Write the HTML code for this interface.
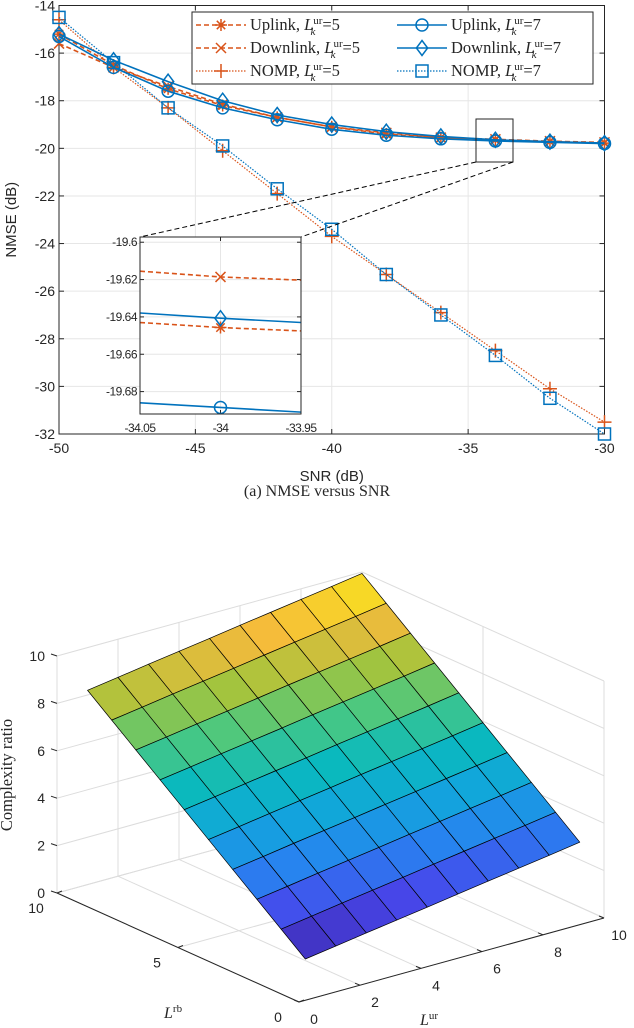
<!DOCTYPE html>
<html><head><meta charset="utf-8"><style>
html,body{margin:0;padding:0;background:#fff;}
svg{display:block;}
text{font-family:"Liberation Sans",sans-serif;fill:#262626;}
.serif{font-family:"Liberation Serif",serif;}
</style></head><body>
<svg id="fig" width="634" height="1028" viewBox="0 0 634 1028" xmlns="http://www.w3.org/2000/svg">
<defs><clipPath id="ic"><rect x="140" y="237" width="161" height="177"/></clipPath></defs>
<g id="topChart"></g>
<text x="317" y="496" text-anchor="middle" class="serif" font-size="16">(a) NMSE versus SNR</text>
<g id="botChart"></g>
</svg>
<script>
// ---------- data: NMSE chart ----------
const snr = [-50,-48,-46,-44,-42,-40,-38,-36,-34,-32,-30];
const upL5 = [-15.2,-16.5,-17.5,-18.2,-18.7,-19.1,-19.4,-19.55,-19.65,-19.72,-19.78];
const downL5 = [-15.6,-16.6,-17.4,-18.15,-18.7,-19.1,-19.35,-19.55,-19.62,-19.7,-19.75];
const nompL5 = [-14.6,-16.6,-18.3,-20.1,-21.9,-23.7,-25.3,-26.9,-28.5,-30.1,-31.5];
const upL7 = [-15.3,-16.6,-17.6,-18.3,-18.8,-19.2,-19.45,-19.6,-19.69,-19.75,-19.8];
const downL7 = [-15.2,-16.3,-17.2,-18.0,-18.6,-19.0,-19.3,-19.5,-19.64,-19.72,-19.78];
const nompL7 = [-14.5,-16.4,-18.3,-19.9,-21.7,-23.4,-25.3,-27.0,-28.7,-30.5,-32.0];
const xTicks = [-50,-45,-40,-35,-30];
const yTicks = [-14,-16,-18,-20,-22,-24,-26,-28,-30,-32];
// inset
const insetX = [-34.05,-34,-33.95];
const insDownL5 = [-19.6155,-19.6186,-19.6203];
const insUpL5 = [-19.643,-19.6457,-19.6475];
const insDownL7 = [-19.6379,-19.6407,-19.643];
const insUpL7 = [-19.686,-19.6885,-19.691];
const insXTicks = [-34.05,-34,-33.95];
const insXLabels = ['-34.05','-34','-33.95'];
const insYTicks = [-19.6,-19.62,-19.64,-19.66,-19.68];
const insYLabels = ['-19.6','-19.62','-19.64','-19.66','-19.68'];
// ---------- data: complexity surface ----------
const lur = [1,2,3,4,5,6,7,8,9,10];
const lrb = [1,2,3,4,5,6,7,8,9,10];
const ratio = [
[1.00,1.19,1.39,1.58,1.77,1.97,2.16,2.35,2.54,2.74],
[1.80,1.99,2.19,2.38,2.57,2.77,2.96,3.15,3.34,3.54],
[2.60,2.79,2.99,3.18,3.37,3.57,3.76,3.95,4.14,4.34],
[3.40,3.59,3.79,3.98,4.17,4.37,4.56,4.75,4.94,5.14],
[4.20,4.39,4.59,4.78,4.97,5.17,5.36,5.55,5.74,5.94],
[5.00,5.19,5.39,5.58,5.77,5.97,6.16,6.35,6.54,6.74],
[5.80,5.99,6.19,6.38,6.57,6.77,6.96,7.15,7.34,7.54],
[6.60,6.79,6.99,7.18,7.37,7.57,7.76,7.95,8.14,8.34],
[7.40,7.59,7.79,7.98,8.17,8.37,8.56,8.75,8.94,9.14],
[8.20,8.39,8.59,8.78,8.97,9.17,9.36,9.55,9.74,9.94]];
const zTicks = [0,2,4,6,8,10];
const urTicks = [0,2,4,6,8,10];
const rbTicks = [0,5,10];

const NS='http://www.w3.org/2000/svg';
function mk(parent,tag,attrs){const e=document.createElementNS(NS,tag);for(const k in attrs)e.setAttribute(k,attrs[k]);parent.appendChild(e);return e;}
const OR='#D95319', BL='#0072BD';

// ---------- top chart ----------
const topG=document.getElementById('topChart');
const L=59,R=604.5,T=5.5,B=434;
const X=v=>L+(v+50)/20*(R-L);
const Y=v=>T+(-14-v)/18*(B-T);
mk(topG,'rect',{x:L,y:T,width:R-L,height:B-T,fill:'#fff'});
xTicks.forEach(t=>{
 const g=mk(topG,'line',{x1:X(t),x2:X(t),y1:T,y2:B,stroke:'#e6e6e6','stroke-width':1});
 
 mk(topG,'line',{x1:X(t),x2:X(t),y1:B,y2:B-5,stroke:'#262626'});
 mk(topG,'line',{x1:X(t),x2:X(t),y1:T,y2:T+5,stroke:'#262626'});
 const tx=mk(topG,'text',{x:X(t),y:B+19,'text-anchor':'middle','font-size':14});tx.textContent=t;
 
});
yTicks.forEach(t=>{
 const g=mk(topG,'line',{x1:L,x2:R,y1:Y(t),y2:Y(t),stroke:'#e6e6e6','stroke-width':1});
 
 mk(topG,'line',{x1:L,x2:L+5,y1:Y(t),y2:Y(t),stroke:'#262626'});
 mk(topG,'line',{x1:R,x2:R-5,y1:Y(t),y2:Y(t),stroke:'#262626'});
 const tx=mk(topG,'text',{x:L-4,y:Y(t)+5,'text-anchor':'end','font-size':14});tx.textContent=t;
 
});
mk(topG,'rect',{x:L,y:T,width:R-L,height:B-T,fill:'none',stroke:'#262626','stroke-width':1});
let t1=mk(topG,'text',{x:(L+R)/2,y:481,'text-anchor':'middle','font-size':15});t1.textContent='SNR (dB)';

let t2=mk(topG,'text',{x:0,y:0,'text-anchor':'middle','font-size':15,transform:`translate(16,${(T+B)/2}) rotate(-90)`});t2.textContent='NMSE (dB)';


function marker(g,type,x,y,c,s){
 const st={stroke:c,'stroke-width':1.5,fill:'none'};
 if(type==='star'){s=s||6;mk(g,'path',Object.assign({d:`M${x-s} ${y}H${x+s}M${x} ${y-s}V${y+s}M${x-s*.7} ${y-s*.7}L${x+s*.7} ${y+s*.7}M${x-s*.7} ${y+s*.7}L${x+s*.7} ${y-s*.7}`},st));}
 else if(type==='x'){s=s||5;mk(g,'path',Object.assign({d:`M${x-s} ${y-s}L${x+s} ${y+s}M${x-s} ${y+s}L${x+s} ${y-s}`},st));}
 else if(type==='plus'){s=s||7;mk(g,'path',Object.assign({d:`M${x-s} ${y}H${x+s}M${x} ${y-s}V${y+s}`},st));}
 else if(type==='circle'){mk(g,'circle',Object.assign({cx:x,cy:y,r:s||6},st));}
 else if(type==='diamond'){s=s||7.5;mk(g,'path',Object.assign({d:`M${x} ${y-s}L${x+s*.75} ${y}L${x} ${y+s}L${x-s*.75} ${y}Z`},st));}
 else if(type==='square'){s=s||6;mk(g,'rect',Object.assign({x:x-s,y:y-s,width:2*s,height:2*s},st));}
}
const series=[
 {name:'uplink-l5',d:upL5,c:OR,dash:'5 3',m:'star'},
 {name:'downlink-l5',d:downL5,c:OR,dash:'5 3',m:'x'},
 {name:'nomp-l5',d:nompL5,c:OR,dash:'1.5 1.5',m:'plus'},
 {name:'uplink-l7',d:upL7,c:BL,dash:'',m:'circle'},
 {name:'downlink-l7',d:downL7,c:BL,dash:'',m:'diamond'},
 {name:'nomp-l7',d:nompL7,c:BL,dash:'1.5 1.5',m:'square'}];
series.forEach(s=>{
 const g=mk(topG,'g',{});
 
 mk(g,'polyline',{points:s.d.map((v,i)=>X(snr[i])+','+Y(v)).join(' '),fill:'none',stroke:s.c,'stroke-width':s.dash==='1.5 1.5'?1.2:1.6,'stroke-dasharray':s.dash});
 s.d.forEach((v,i)=>marker(g,s.m,X(snr[i]),Y(v),s.c));
});
// zoom box
const zb=mk(topG,'rect',{x:476,y:119,width:37,height:43,fill:'none',stroke:'#262626','stroke-width':1});

mk(topG,'line',{x1:476,y1:162,x2:140,y2:237,stroke:'#000','stroke-dasharray':'5 3','stroke-width':1});
mk(topG,'line',{x1:513,y1:162,x2:301,y2:237,stroke:'#000','stroke-dasharray':'5 3','stroke-width':1});
// inset
const ins=mk(topG,'g',{});

const iL=140,iR=301,iT=237,iB=414;
const IX=v=>iL+(v+34.05)/0.1*(iR-iL);
const IY=v=>iT+(-19.5972-v)/(0.0948)*(iB-iT);
mk(ins,'rect',{x:iL,y:iT,width:iR-iL,height:iB-iT,fill:'#fff'});
insXTicks.forEach((t,i)=>{
 mk(ins,'line',{x1:IX(t),x2:IX(t),y1:iT,y2:iB,stroke:'#e6e6e6'});
 mk(ins,'line',{x1:IX(t),x2:IX(t),y1:iB,y2:iB-4,stroke:'#262626'});
 mk(ins,'line',{x1:IX(t),x2:IX(t),y1:iT,y2:iT+4,stroke:'#262626'});
 const tx=mk(ins,'text',{x:IX(t),y:432,'text-anchor':'middle','font-size':12,'letter-spacing':'-0.5'});tx.textContent=insXLabels[i];
});
insYTicks.forEach((t,i)=>{
 mk(ins,'line',{x1:iL,x2:iR,y1:IY(t),y2:IY(t),stroke:'#e6e6e6'});
 mk(ins,'line',{x1:iL,x2:iL+4,y1:IY(t),y2:IY(t),stroke:'#262626'});
 mk(ins,'line',{x1:iR,x2:iR-4,y1:IY(t),y2:IY(t),stroke:'#262626'});
 const tx=mk(ins,'text',{x:iL-3,y:IY(t)+4,'text-anchor':'end','font-size':12,'letter-spacing':'-0.5'});tx.textContent=insYLabels[i];
});
const insSeries=[
 {d:insDownL5,c:OR,dash:'5 3',m:'x'},{d:insUpL5,c:OR,dash:'5 3',m:'star'},
 {d:insDownL7,c:BL,dash:'',m:'diamond'},{d:insUpL7,c:BL,dash:'',m:'circle'}];
const ig=mk(ins,'g',{'clip-path':'url(#ic)'});
insSeries.forEach(s=>{
 mk(ig,'polyline',{points:s.d.map((v,i)=>IX(insetX[i])+','+IY(v)).join(' '),fill:'none',stroke:s.c,'stroke-width':1.6,'stroke-dasharray':s.dash});
 marker(ig,s.m,IX(insetX[1]),IY(s.d[1]),s.c);
});
mk(ins,'rect',{x:iL,y:iT,width:iR-iL,height:iB-iT,fill:'none',stroke:'#262626'});
// legend
const lg=mk(topG,'g',{});

mk(lg,'rect',{x:192,y:12,width:401,height:72,fill:'#fff',stroke:'#262626'});
const legRows=[25,48,71];
const labels=['Uplink, ','Downlink, ','NOMP, '];
series.forEach((s,i)=>{
 const col=i<3?0:1,row=i%3;
 const x0=col?397:196,y=legRows[row];
 const e=mk(lg,'g',{});
 
 mk(e,'line',{x1:x0,x2:x0+50,y1:y,y2:y,stroke:s.c,'stroke-width':s.dash==='1.5 1.5'?1.2:1.6,'stroke-dasharray':s.dash});
 marker(e,s.m,x0+25,y,s.c);
 const t=mk(e,'text',{x:x0+54,y:y+5,'font-size':16.5,class:'serif'});
 t.innerHTML=`${labels[row]}<tspan font-style="italic">L</tspan><tspan dy="-6" font-size="11">ur</tspan><tspan dx="-12" dy="11" font-size="11" font-style="italic">k</tspan><tspan dx="7" dy="-5">=${col?7:5}</tspan>`;
});

// ---------- bottom 3D chart ----------
const botG=document.getElementById('botChart');
const O={x:299,y:1002}, eUR={x:30.5,y:-8.4}, eRB={x:-24.2,y:-10.9}, eZ={x:0,y:-23.7};
const P=(ur,rb,z)=>[O.x+ur*eUR.x+rb*eRB.x+z*eZ.x, O.y+ur*eUR.y+rb*eRB.y+z*eZ.y];
const gc='#dcdcdc';
function ln(g,a,b,c,w){mk(g,'line',{x1:a[0],y1:a[1],x2:b[0],y2:b[1],stroke:c,'stroke-width':w||1});}
const grid=mk(botG,'g',{});

zTicks.forEach(z=>{ln(grid,P(0,10,z),P(10,10,z),gc);ln(grid,P(10,10,z),P(10,0,z),gc);});
urTicks.forEach(u=>{ln(grid,P(u,10,0),P(u,10,10),gc);ln(grid,P(u,0,0),P(u,10,0),gc);});
rbTicks.forEach(r=>{ln(grid,P(10,r,0),P(10,r,10),gc);ln(grid,P(0,r,0),P(10,r,0),gc);});
ln(botG,P(0,0,0),P(0,10,0),'#262626');ln(botG,P(0,0,0),P(10,0,0),'#262626');
zTicks.forEach(z=>{const p=P(0,10,z);ln(botG,p,[p[0]-6,p[1]-2],'#262626');
 const t=mk(botG,'text',{x:p[0]-12,y:p[1]+5,'text-anchor':'end','font-size':14});t.textContent=z;
 });
urTicks.forEach(u=>{const p=P(u,0,0);ln(botG,p,[p[0]-5,p[1]-2],'#262626');
 const t=mk(botG,'text',{x:p[0]+15,y:p[1]+22,'text-anchor':'middle','font-size':14});t.textContent=u;
 });
rbTicks.forEach(r=>{const p=P(0,r,0);ln(botG,p,[p[0]+5,p[1]-2],'#262626');
 const t=mk(botG,'text',{x:p[0]-21,y:p[1]+20,'text-anchor':'middle','font-size':14});t.textContent=r;
 });
const stops=[[62,38,168],[71,71,235],[40,130,240],[18,165,220],[10,185,190],[72,200,130],[165,196,60],[245,186,60],[249,240,20]];
function parula(f){f=Math.max(0,Math.min(1,f))*(stops.length-1);const i=Math.min(Math.floor(f),stops.length-2),t=f-i;
 return 'rgb('+stops[i].map((c,k)=>Math.round(c+(stops[i+1][k]-c)*t)).join(',')+')';}
const surf=mk(botG,'g',{});

let zmin=Infinity,zmax=-Infinity;ratio.forEach(r=>r.forEach(v=>{zmin=Math.min(zmin,v);zmax=Math.max(zmax,v);}));
const faces=[];
for(let j=0;j<lrb.length-1;j++)for(let i=0;i<lur.length-1;i++){
 const pts=[[i,j],[i+1,j],[i+1,j+1],[i,j+1]].map(([a,b])=>P(lur[a],lrb[b],ratio[b][a]));
 const zc=(ratio[j][i]+ratio[j][i+1]+ratio[j+1][i]+ratio[j+1][i+1])/4;
 faces.push({pts,zc,depth:lur[i]+lrb[j]});
}
faces.sort((a,b)=>b.depth-a.depth);
faces.forEach(f=>{
 const p=mk(surf,'polygon',{points:f.pts.map(q=>q.join(',')).join(' '),fill:parula((f.zc-zmin)/(zmax-zmin)),stroke:'#000','stroke-width':0.7,'stroke-linejoin':'round'});
 
});
let a1=mk(botG,'text',{x:0,y:0,'text-anchor':'middle','font-size':16.5,class:'serif',transform:'translate(12,775) rotate(-90)'});a1.textContent='Complexity ratio';

let a2=mk(botG,'text',{x:164,y:1018,'font-size':16,class:'serif'});a2.innerHTML='<tspan font-style="italic">L</tspan><tspan dy="-6" font-size="11">rb</tspan>';

let a3=mk(botG,'text',{x:420,y:1025,'font-size':16,class:'serif'});a3.innerHTML='<tspan font-style="italic">L</tspan><tspan dy="-6" font-size="11">ur</tspan>';

</script>
</body></html>
